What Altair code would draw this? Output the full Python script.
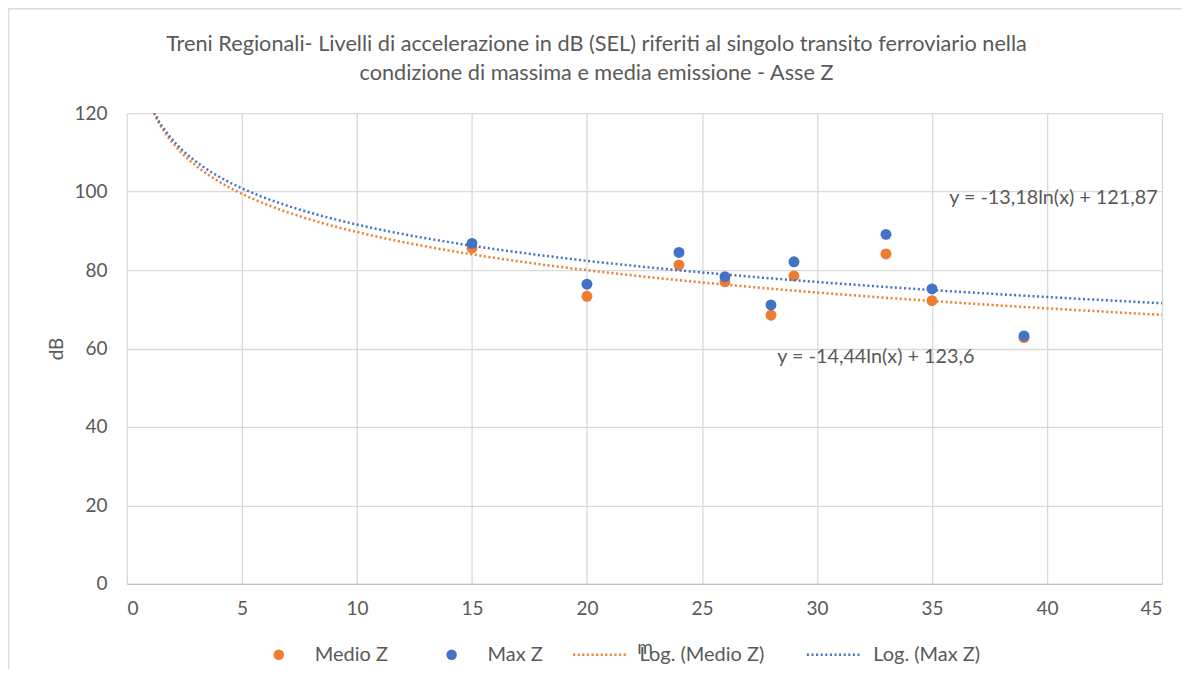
import altair as alt
import pandas as pd

# distances (m)
distances = [15, 20, 24, 26, 28, 29, 33, 35, 39]
# SEL levels (dB)
medio_z = [85.6, 73.3, 81.3, 77.0, 68.5, 78.5, 84.1, 72.2, 62.8]
max_z = [86.8, 76.4, 84.5, 78.3, 71.1, 82.1, 89.1, 75.2, 63.2]

series_names = ["Medio Z", "Max Z"]
trend_names = ["Log. (Medio Z)", "Log. (Max Z)"]
equations = ["y = -13,18ln(x) + 121,87", "y = -14,44ln(x) + 123,6"]
title_lines = [
    "Treni Regionali- Livelli di accelerazione in dB (SEL) riferiti al singolo transito ferroviario nella",
    "condizione di massima e media emissione - Asse Z",
]

ORANGE = "#ED7D31"
BLUE = "#4472C4"
TEXT = "#595959"
GRID = "#D9D9D9"
FONT = "Lato"

rows = []
for x, m in zip(distances, medio_z):
    rows.append({"x": x, "y": m, "series": series_names[0], "trend": trend_names[0], "order": 0})
for x, b in zip(distances, max_z):
    rows.append({"x": x, "y": b, "series": series_names[1], "trend": trend_names[1], "order": 1})
df = pd.DataFrame(rows)

xscale = alt.Scale(domain=[0, 45], nice=False)
yscale = alt.Scale(domain=[0, 120], nice=False)

xaxis = alt.Axis(values=list(range(0, 46, 5)), title="m", ticks=False, labelPadding=16,
                 titlePadding=20, grid=True)
yaxis = alt.Axis(values=list(range(0, 121, 20)), title="dB", ticks=False, labelPadding=20,
                 titlePadding=7, grid=True, domain=False)

base = alt.Chart(df)

frame = alt.Chart(pd.DataFrame({"k": [0]})).mark_rect(
    fill=None, stroke="#DADADA", strokeWidth=1.5, clip=False
).encode(x=alt.value(-118.5), x2=alt.value(1200), y=alt.value(-104.5), y2=alt.value(800))

points = base.mark_circle(size=120, opacity=1).encode(
    x=alt.X("x:Q", scale=xscale, axis=xaxis),
    y=alt.Y("y:Q", scale=yscale, axis=yaxis),
    fill=alt.Fill("series:N", scale=alt.Scale(domain=series_names, range=[ORANGE, BLUE]),
                  legend=alt.Legend(title=None, orient="none", legendX=142, legendY=532,
                                    direction="horizontal", symbolType="circle", symbolSize=110,
                                    labelOffset=26, columnPadding=53, labelFontSize=20,
                                    labelColor=TEXT, labelFont=FONT)),
    order=alt.Order("order:Q"),
)

lines = base.transform_regression(
    "x", "y", method="log", groupby=["trend"], extent=[1, 45]
).mark_line(strokeWidth=2.5, strokeDash=[2, 2.6], clip=True).encode(
    x=alt.X("x:Q", scale=xscale),
    y=alt.Y("y:Q", scale=yscale),
    stroke=alt.Stroke("trend:N", scale=alt.Scale(domain=trend_names, range=[ORANGE, BLUE]),
                      legend=alt.Legend(title=None, orient="none", legendX=445, legendY=513,
                                        direction="horizontal", symbolType="stroke",
                                        symbolSize=3000, symbolStrokeWidth=2.5,
                                        symbolDash=[2, 2.6], labelOffset=10, columnPadding=36,
                                        labelFontSize=20, labelColor=TEXT, labelFont=FONT)),
)

eq_df = pd.DataFrame({"label": equations, "k": [0, 1]})
eq1 = alt.Chart(eq_df).transform_filter("datum.k == 0").mark_text(
    align="left", baseline="middle", fontSize=19.8, color=TEXT, font=FONT
).encode(x=alt.value(823), y=alt.value(85), text="label:N")
eq2 = alt.Chart(eq_df).transform_filter("datum.k == 1").mark_text(
    align="left", baseline="middle", fontSize=19.8, color=TEXT, font=FONT
).encode(x=alt.value(651), y=alt.value(244), text="label:N")

chart = alt.layer(frame, points, lines, eq1, eq2).resolve_legend(
    fill="independent", stroke="independent"
).properties(
    width=1036,
    height=471,
    background="white",
    autosize=alt.AutoSizeParams(type="none"),
    padding={"left": 119, "top": 105, "right": 20, "bottom": 85},
    title=alt.TitleParams(text=title_lines, fontSize=21.7, font=FONT, fontWeight="normal",
                          color=TEXT, anchor="middle", dx=-48, offset=0, dy=77, lineHeight=29),
).configure_view(stroke=None).configure_axis(
    gridColor=GRID, gridWidth=1.3, domainColor="#BFBFBF", domainWidth=1.3,
    labelFont=FONT, labelFontSize=19, labelColor=TEXT,
    titleFont=FONT, titleFontSize=19, titleColor=TEXT, titleFontWeight="normal",
)

chart.save("out.html", embed_options={"renderer": "svg", "actions": False})
